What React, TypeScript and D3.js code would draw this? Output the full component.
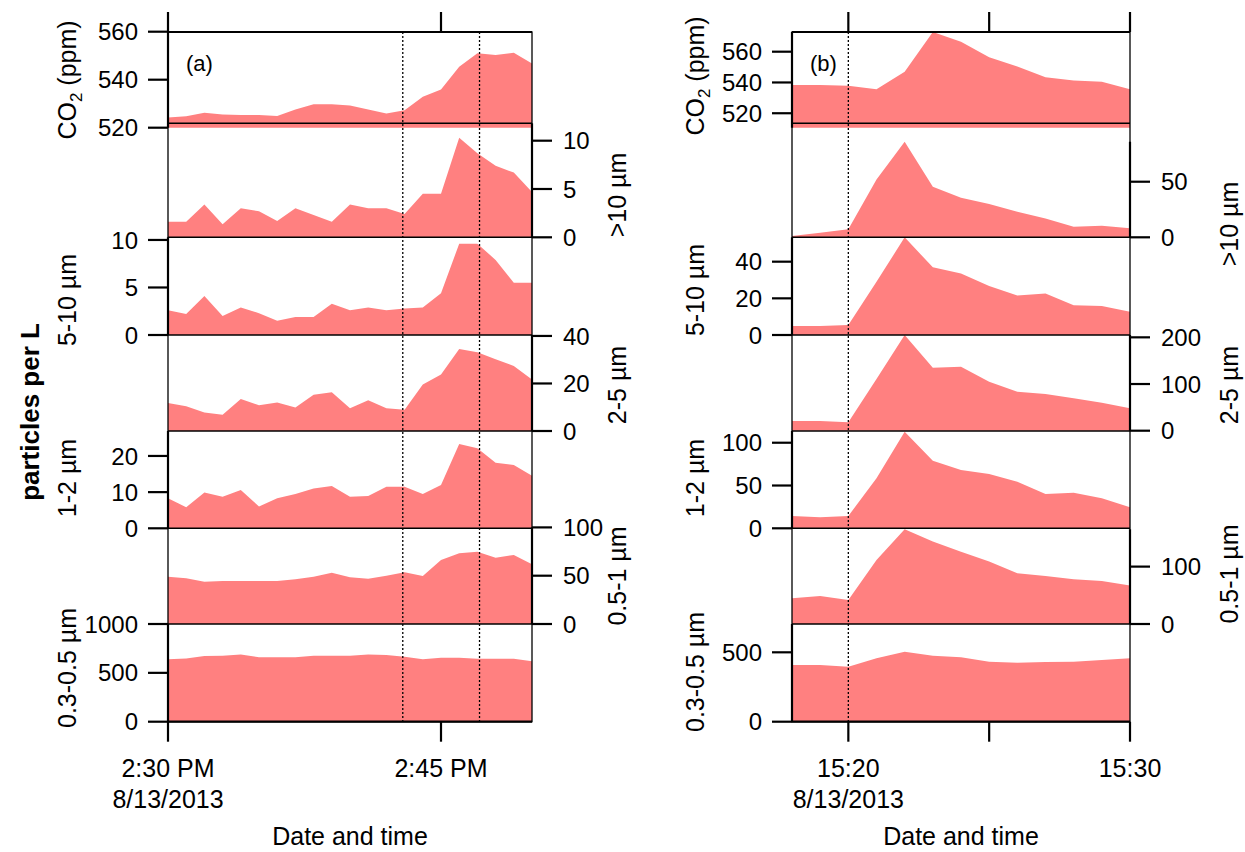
import React from "react";
import * as d3 from "d3";

// ---- data ----
const timesA = [
  "14:30", "14:31", "14:32", "14:33", "14:34", "14:35", "14:36", "14:37", "14:38", "14:39", "14:40",
  "14:41", "14:42", "14:43", "14:44", "14:45", "14:46", "14:47", "14:48", "14:49", "14:50",
];
const co2A = [524.2, 524.8, 526.2, 525.5, 525.3, 525.3, 524.9, 527.6, 529.8, 529.8, 529.2, 527.6, 525.9, 527.3, 532.9, 535.9, 545.4, 551.0, 550.3, 551.2, 546.8];
const gt10A = [1.6, 1.6, 3.4, 1.35, 3.0, 2.7, 1.7, 3.0, 2.3, 1.6, 3.4, 3.0, 3.0, 2.4, 4.5, 4.5, 10.3, 8.7, 7.4, 6.7, 4.7];
const um5to10A = [2.6, 2.2, 4.1, 2.0, 2.9, 2.3, 1.5, 1.9, 1.9, 3.3, 2.6, 2.9, 2.6, 2.8, 2.9, 4.4, 9.6, 9.6, 7.9, 5.5, 5.5];
const um2to5A = [11.8, 10.4, 7.8, 6.8, 13.5, 10.8, 12.0, 9.9, 15.3, 16.3, 9.6, 12.9, 9.6, 8.9, 19.6, 23.8, 34.5, 33.1, 30.2, 27.4, 21.7];
const um1to2A = [8.3, 5.8, 9.9, 8.7, 10.6, 6.0, 8.3, 9.5, 11.0, 11.7, 8.7, 8.9, 11.5, 11.5, 9.5, 12.0, 23.3, 22.1, 18.1, 17.5, 14.5];
const um05to1A = [49, 47.3, 43.8, 44.5, 44.5, 44.5, 44.5, 46.2, 49, 53.1, 48.3, 46.9, 50, 53.5, 49.7, 66.3, 73.2, 74.9, 68.7, 71.4, 61.8];
const um03to05A = [638, 648, 672, 676, 689, 659, 659, 659, 676, 676, 676, 689, 683, 666, 638, 655, 655, 645, 645, 645, 618];
const markersA = ["14:42:54", "14:47:07"];

const timesB = ["15:18", "15:19", "15:20", "15:21", "15:22", "15:23", "15:24", "15:25", "15:26", "15:27", "15:28", "15:29", "15:30"];
const co2B = [538.4, 538.4, 537.9, 535.6, 547, 573, 566.5, 556.4, 550.3, 543.4, 541.2, 540.5, 535.6];
const gt10B = [1.2, 4.2, 7.2, 52, 86, 45.5, 35.6, 30, 23, 17, 9.6, 10.5, 8.1];
const um5to10B = [4.9, 4.9, 5.5, 29, 53.3, 36.9, 33.6, 26.7, 21.5, 22.7, 16.2, 15.8, 12.7];
const um2to5B = [20.7, 20.7, 17.9, 110.7, 205, 135, 137, 105, 83.6, 78.6, 69.3, 60, 47.9];
const um1to2B = [14.4, 12.8, 14.4, 58.4, 112.8, 79, 68, 63.4, 54.5, 40, 41.6, 35, 24.5];
const um05to1B = [44.8, 48.8, 41.9, 111.6, 165, 143.6, 126, 108.7, 88.4, 83.7, 78, 75, 66.9];
const um03to05B = [408.7, 408.7, 396.6, 456.7, 504.8, 476, 464, 432.7, 425.5, 430, 432.7, 444.7, 456.7];
const markersB = ["15:20:00"];

const panelTitles = ["CO2", ">10 µm", "5-10 µm", "2-5 µm", "1-2 µm", "0.5-1 µm", "0.3-0.5 µm"];

const yTicksA = [[520, 540, 560], [0, 5, 10], [0, 5, 10], [0, 20, 40], [0, 10, 20], [0, 50, 100], [0, 500, 1000]];
const yDomainsA = [[520, 560], [0, 11.8], [0, 10.28], [0, 40.4], [0, 26.9], [0, 100], [0, 1000]];
const yTicksB = [[520, 540, 560], [0, 50], [0, 20, 40], [0, 100, 200], [0, 50, 100], [0, 100], [0, 500]];
const yDomainsB = [[510.6, 572.8], [0, 86], [0, 53.3], [0, 205], [0, 113.7], [0, 165], [0, 704]];

const xTicksA = ["14:30", "14:45"];
const xTickLabelsA = ["2:30 PM", "2:45 PM"];
const xTicksB = ["15:20", "15:25", "15:30"];
const xTickLabelsB = ["15:20", "", "15:30"];
const dateLabel = "8/13/2013";

// ---- layout ----
const FONT = "'Liberation Sans', Arial, Helvetica, sans-serif";
const FILL = "#ff8080";
const TOP = 32;
const BOTTOM = 721.7;
const sides = ["left", "right", "left", "right", "left", "right", "left"];
const separators = [123.3, 237.3, 335, 431, 528.3, 624];

const toDate = (t: string) => {
  const p = t.split(":").map(Number);
  return new Date(2013, 7, 13, p[0], p[1], p[2] || 0);
};

const Panel = ({ x0, x1, t0, t1, times, series, domains, ticks, ranges, titleYs, leftTitleX, rightTitleX, markers, xTicks, xTickLabels, tag }) => {
  const x = d3.scaleTime().domain([toDate(t0), toDate(t1)]).range([x0, x1]);
  const dates = times.map(toDate);

  return (
    <g>
      {/* filled areas */}
      {series.map((vals, i) => {
        const y = d3.scaleLinear().domain(domains[i]).range(ranges[i]).clamp(true);
        const area = d3
          .area<number>()
          .x((_, j) => x(dates[j]))
          .y0(y(domains[i][0]))
          .y1((d) => y(d));
        return <path key={"a" + i} d={area(vals) || ""} fill={FILL} stroke="none" />;
      })}

      {/* dotted event markers */}
      {markers.map((m) => (
        <line key={m} x1={x(toDate(m))} x2={x(toDate(m))} y1={TOP} y2={BOTTOM} stroke="#000" strokeWidth={1.3} strokeDasharray="2,2" />
      ))}

      {/* frame and panel separators */}
      <rect x={x0} y={TOP} width={x1 - x0} height={BOTTOM - TOP} fill="none" stroke="#000" strokeWidth={1.3} />
      {separators.map((s) => (
        <line key={s} x1={x0} x2={x1} y1={s} y2={s} stroke="#000" strokeWidth={1.5} />
      ))}
      <line x1={x0} x2={x1} y1={TOP} y2={TOP} stroke="#000" strokeWidth={2.2} />
      <line x1={x0} x2={x1} y1={BOTTOM} y2={BOTTOM} stroke="#000" strokeWidth={2.2} />

      {/* y axes */}
      {series.map((_, i) => {
        const y = d3.scaleLinear().domain(domains[i]).range(ranges[i]);
        const left = sides[i] === "left";
        const ax = left ? x0 : x1;
        const dir = left ? -1 : 1;
        return (
          <g key={"y" + i}>
            <line x1={ax} x2={ax} y1={ranges[i][0]} y2={ranges[i][1]} stroke="#000" strokeWidth={2.2} />
            {ticks[i].map((tv) => (
              <g key={tv}>
                <line x1={ax} x2={ax + dir * 20} y1={y(tv)} y2={y(tv)} stroke="#000" strokeWidth={2.2} />
                <text
                  x={ax + dir * (left ? 30 : 31)}
                  y={y(tv)}
                  dy="0.36em"
                  textAnchor={left ? "end" : "start"}
                  fontSize={24}
                  fontFamily={FONT}
                >
                  {tv}
                </text>
              </g>
            ))}
            <text
              transform={`translate(${left ? leftTitleX : rightTitleX},${titleYs[i]}) rotate(-90)`}
              dy="0.35em"
              textAnchor="middle"
              fontSize={25}
              fontFamily={FONT}
            >
              {i === 0 ? (
                <>
                  <tspan>CO</tspan>
                  <tspan fontSize={17} dy={6}>2</tspan>
                  <tspan dy={-6}> (ppm)</tspan>
                </>
              ) : (
                panelTitles[i]
              )}
            </text>
          </g>
        );
      })}

      {/* x axis ticks, top and bottom */}
      {xTicks.map((t, k) => {
        const tx = x(toDate(t));
        return (
          <g key={t}>
            <line x1={tx} x2={tx} y1={TOP} y2={TOP - 20} stroke="#000" strokeWidth={2.2} />
            <line x1={tx} x2={tx} y1={BOTTOM} y2={BOTTOM + 20} stroke="#000" strokeWidth={2.2} />
            {xTickLabels[k] && (
              <text x={tx} y={777} textAnchor="middle" fontSize={25} fontFamily={FONT}>
                {xTickLabels[k]}
              </text>
            )}
            {k === 0 && (
              <text x={tx} y={808} textAnchor="middle" fontSize={25} fontFamily={FONT}>
                {dateLabel}
              </text>
            )}
          </g>
        );
      })}
      <text x={(x0 + x1) / 2} y={845} textAnchor="middle" fontSize={25} fontFamily={FONT}>
        Date and time
      </text>

      <text x={x0 + 18} y={71} fontSize={22} fontFamily={FONT}>
        {tag}
      </text>
    </g>
  );
};

export default function App() {
  const rangesA = [[127.7, 31.7], [237.3, 123.3], [335, 237.3], [431, 335], [528.3, 431], [624, 527.4], [721.7, 624]];
  const rangesB = [[127.7, 32], [237.3, 141.7], [335, 237.3], [430.7, 335], [528.3, 431], [624, 529.3], [721.7, 624]];

  return (
    <svg width={1245} height={852} style={{ position: "absolute", left: 0, top: 0, background: "#fff" }}>
      <Panel
        x0={168}
        x1={532}
        t0="14:30"
        t1="14:50"
        times={timesA}
        series={[co2A, gt10A, um5to10A, um2to5A, um1to2A, um05to1A, um03to05A]}
        domains={yDomainsA}
        ticks={yTicksA}
        ranges={rangesA}
        titleYs={[80, 195, 300, 385, 478, 576, 668]}
        leftTitleX={67}
        rightTitleX={617}
        markers={markersA}
        xTicks={xTicksA}
        xTickLabels={xTickLabelsA}
        tag="(a)"
      />
      <Panel
        x0={792}
        x1={1130}
        t0="15:18"
        t1="15:30"
        times={timesB}
        series={[co2B, gt10B, um5to10B, um2to5B, um1to2B, um05to1B, um03to05B]}
        domains={yDomainsB}
        ticks={yTicksB}
        ranges={rangesB}
        titleYs={[76, 224, 290, 385, 478, 574, 672]}
        leftTitleX={695}
        rightTitleX={1229}
        markers={markersB}
        xTicks={xTicksB}
        xTickLabels={xTickLabelsB}
        tag="(b)"
      />
      <text
        transform="translate(30,412) rotate(-90)"
        dy="0.35em"
        textAnchor="middle"
        fontSize={26}
        fontWeight="bold"
        fontFamily={FONT}
      >
        particles per L
      </text>
    </svg>
  );
}
